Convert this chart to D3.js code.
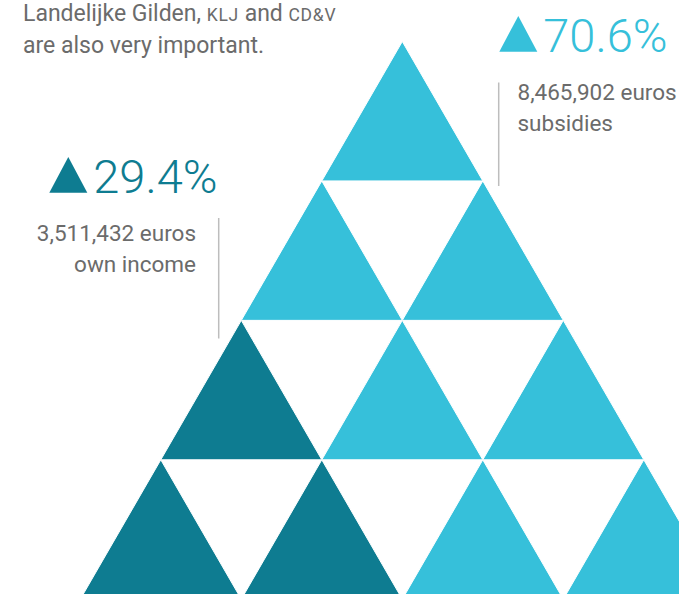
<!DOCTYPE html>
<html>
<head>
<meta charset="utf-8">
<script src="https://cdn.jsdelivr.net/npm/d3@7"></script>
<style>
  html, body { margin: 0; padding: 0; background: #fff; }
  svg { display: block; font-family: Roboto, "Noto Sans", sans-serif; }
</style>
</head>
<body>
<svg id="chart"></svg>
<script>
// data
const categories = ["own income", "subsidies"];
const shares = [29.4, 70.6];
const amounts = [3511432, 8465902];
// triangle pyramid, row by row from the top: which category each upward triangle stands for
const pyramidRows = [
  ["subsidies"],
  ["subsidies", "subsidies"],
  ["own income", "subsidies", "subsidies"],
  ["own income", "own income", "subsidies", "subsidies"]
];

const width = 679, height = 594;
const colors = d3.scaleOrdinal().domain(categories).range(["#0e7c91", "#36c0da"]);

const svg = d3.select("#chart").attr("width", width).attr("height", height);

// scales: rows go down, x counts half triangle sides from the apex
const side = 161;
const rowH = side * Math.sqrt(3) / 2;
const apexX = 402.3, apexY = 41.5;
const y = d3.scaleLinear().domain([0, 4]).range([apexY, apexY + 4 * rowH]);
const x = d3.scaleLinear().domain([-4, 4]).range([apexX - 2 * side, apexX + 2 * side]);

const tris = [];
pyramidRows.forEach((row, r) => {
  row.forEach((cat, c) => tris.push({ row: r, col: c, cat }));
});

svg.append("g")
  .selectAll("path")
  .data(tris)
  .join("path")
  .attr("d", d => {
    const cx = 2 * d.col - d.row;
    return `M${x(cx)},${y(d.row)}L${x(cx + 1)},${y(d.row + 1)}L${x(cx - 1)},${y(d.row + 1)}Z`;
  })
  .attr("fill", d => colors(d.cat))
  .attr("stroke", "#fff")
  .attr("stroke-width", 1);

// intro text
const grey = "#6b6b6b";
const intro = svg.append("text")
  .attr("x", 23).attr("y", 21)
  .attr("font-size", 23).attr("fill", grey);
intro.append("tspan").text("Landelijke Gilden, ");
intro.append("tspan").attr("font-size", 17.5).attr("letter-spacing", 0.7).text("KLJ");
intro.append("tspan").text(" and ");
intro.append("tspan").attr("font-size", 17.5).attr("letter-spacing", 0.7).text("CD&V");
svg.append("text")
  .attr("x", 23).attr("y", 53)
  .attr("font-size", 23).attr("fill", grey)
  .text("are also very important.");

// annotations
const fmt = d3.format(",");
const notes = [
  { i: 0, iconX: 49.3, baseY: 193, textX: 196, anchor: "end", lineX: 218.7, lineY: [218, 338.5] },
  { i: 1, iconX: 499.3, baseY: 52, textX: 517.5, anchor: "start", lineX: 498.7, lineY: [82.5, 186] }
];

notes.forEach(n => {
  const g = svg.append("g");
  const col = colors(categories[n.i]);
  g.append("path")
    .attr("d", `M${n.iconX},${n.baseY - 0.3}L${n.iconX + 38},${n.baseY - 0.3}L${n.iconX + 19},${n.baseY - 36}Z`)
    .attr("fill", col);
  g.append("text")
    .attr("x", n.iconX + 44).attr("y", n.baseY)
    .attr("font-size", 47).attr("font-weight", 300)
    .attr("fill", col)
    .text(shares[n.i].toFixed(1) + "%");
  g.append("line")
    .attr("x1", n.lineX).attr("x2", n.lineX)
    .attr("y1", n.lineY[0]).attr("y2", n.lineY[1])
    .attr("stroke", "#bdbdbd").attr("stroke-width", 1.5);
  const base = n.baseY + 47.5;
  g.append("text")
    .attr("x", n.textX).attr("y", base)
    .attr("text-anchor", n.anchor)
    .attr("font-size", 22.5).attr("fill", grey)
    .text(fmt(amounts[n.i]) + " euros");
  g.append("text")
    .attr("x", n.textX).attr("y", base + 31)
    .attr("text-anchor", n.anchor)
    .attr("font-size", 22.5).attr("fill", grey)
    .text(categories[n.i]);
});
</script>
</body>
</html>
